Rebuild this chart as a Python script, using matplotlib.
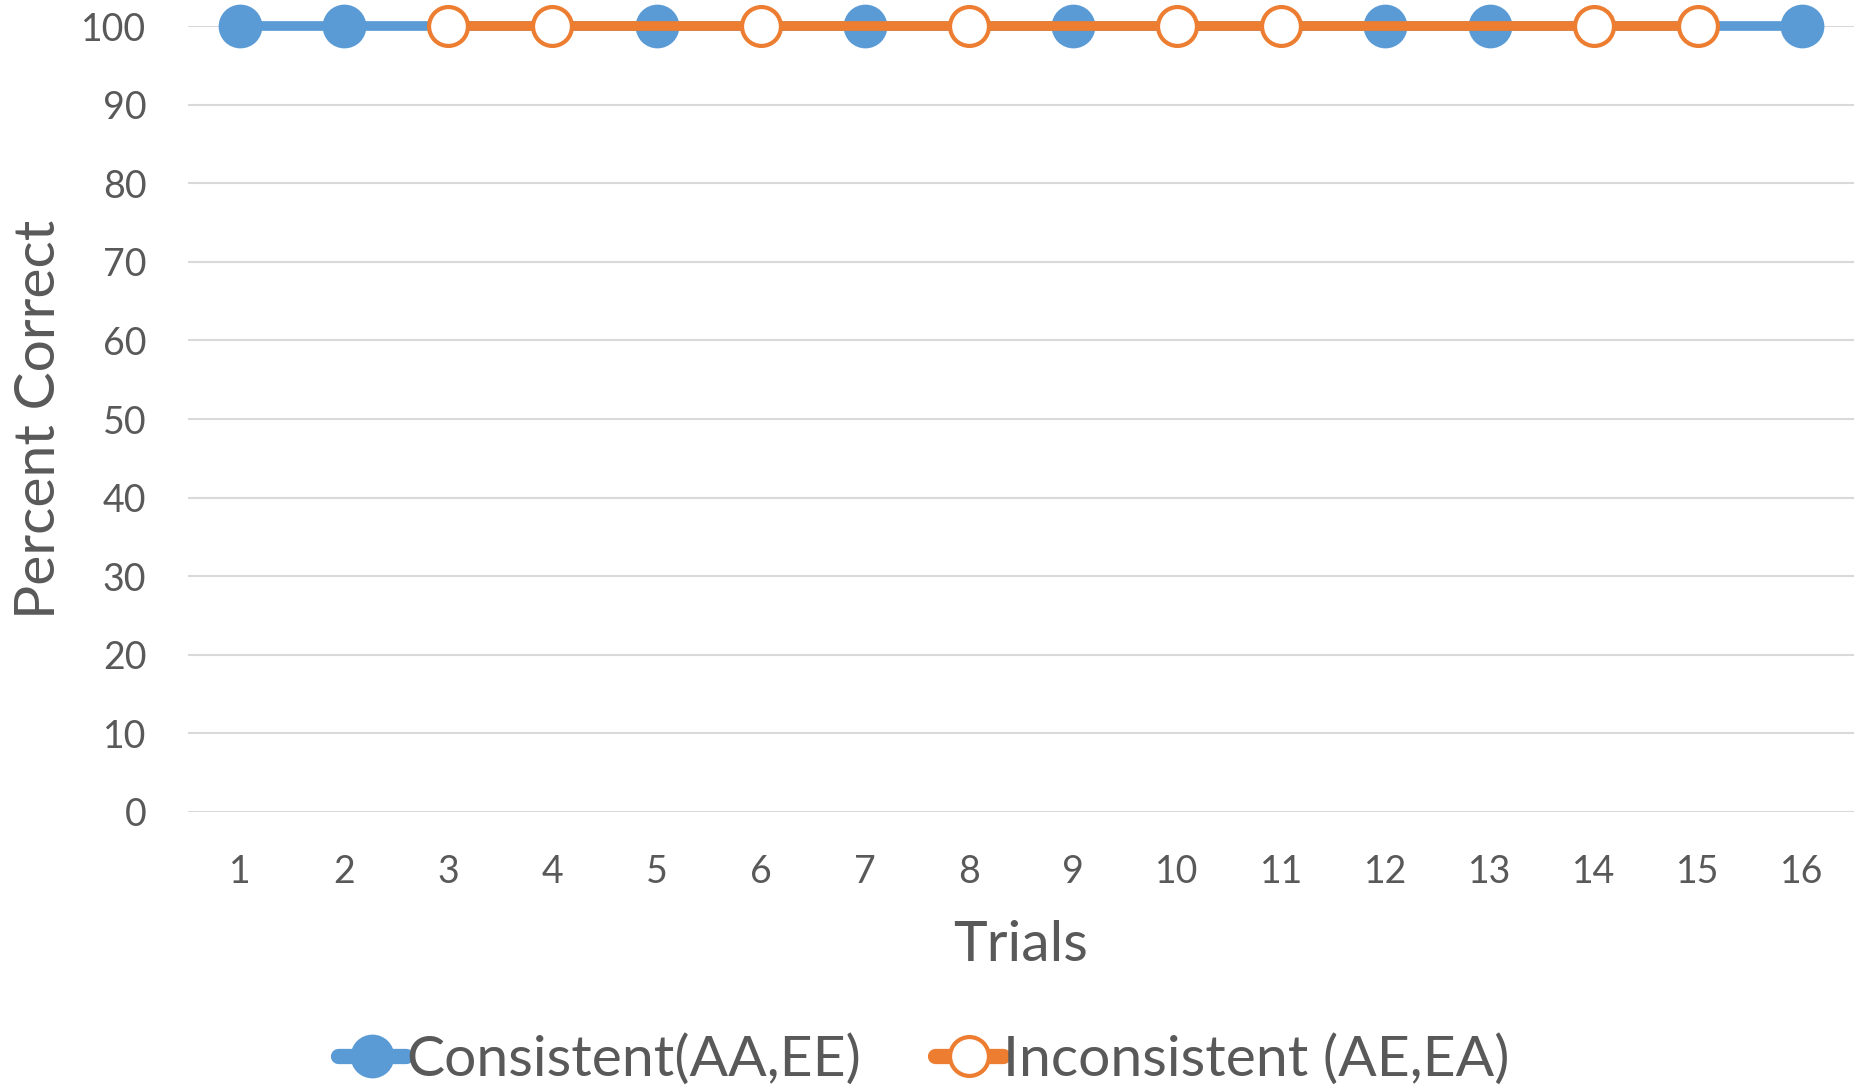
import matplotlib
matplotlib.use("Agg")
import matplotlib.pyplot as plt

# trial numbers and percent correct for each condition
consistent_trials = [1, 2, 5, 7, 9, 12, 13, 16]
consistent_pct = [100, 100, 100, 100, 100, 100, 100, 100]
inconsistent_trials = [3, 4, 6, 8, 10, 11, 14, 15]
inconsistent_pct = [100, 100, 100, 100, 100, 100, 100, 100]
trial_labels = [str(i) for i in range(1, 17)]
y_ticks = list(range(0, 101, 10))

blue = "#5B9BD5"
orange = "#ED7D31"
grey = "#595959"

plt.rcParams['font.family'] = ['Lato', 'DejaVu Sans']

fig = plt.figure(figsize=(18.68, 10.88), dpi=100)
ax = fig.add_axes([0.1006, 0.2537, 0.8919, 0.7223])

ax.plot(consistent_trials, consistent_pct, color=blue, lw=7, marker='o',
        ms=29, mfc=blue, mec=blue, mew=2.5, clip_on=False, zorder=3,
        label="Consistent(AA,EE)")
ax.plot(inconsistent_trials, inconsistent_pct, color=orange, lw=7, marker='o',
        ms=28, mfc='white', mec=orange, mew=3, clip_on=False, zorder=4,
        label="Inconsistent (AE,EA)")

ax.set_xlim(0.5, 16.5)
ax.set_ylim(0, 100)
ax.set_xticks(range(1, 17))
ax.set_xticklabels(trial_labels)
ax.set_yticks(y_ticks)
ax.grid(axis='y', color='#D9D9D9', lw=1.5)
ax.set_axisbelow(True)
for s in ax.spines.values():
    s.set_visible(False)
ax.tick_params(axis='both', length=0, labelsize=27, colors=grey)
ax.tick_params(axis='x', pad=30)
ax.tick_params(axis='y', pad=30)

ax.set_xlabel("Trials", fontsize=41, color=grey, labelpad=22)
ax.set_ylabel("Percent Correct", fontsize=41, color=grey)
ax.yaxis.set_label_coords(-0.074, 0.5)

leg = fig.legend(loc='center', bbox_to_anchor=(0.4946, 0.026), ncol=2,
                 frameon=False, fontsize=41, labelcolor=grey,
                 handlelength=1.2, handletextpad=0.0, columnspacing=1.3)
for h in leg.legend_handles:
    h.set_linewidth(11)
    h.set_solid_capstyle('round')

fig.savefig("out.png", dpi=100)
